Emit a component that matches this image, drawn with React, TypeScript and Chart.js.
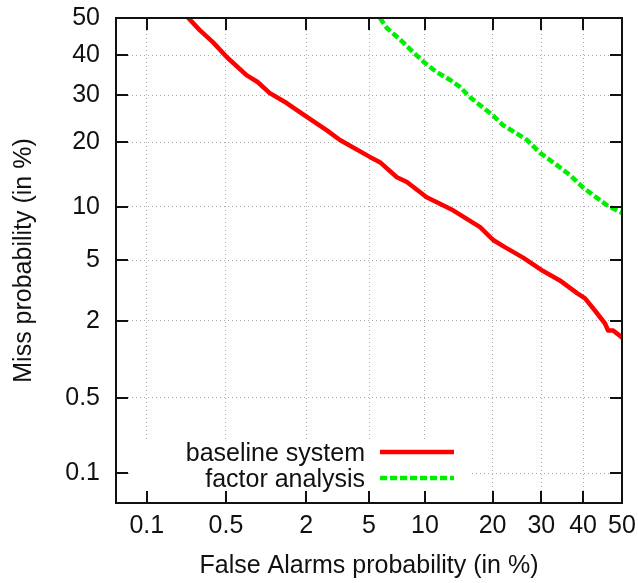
import React, { useEffect, useRef } from 'react';
import { Chart, registerables } from 'chart.js';

Chart.register(...registerables);

// ---- data (percent values) ----
const X_TICKS = [0.1, 0.5, 2, 5, 10, 20, 30, 40, 50];
const X_TICK_LABELS = ['0.1', '0.5', '2', '5', '10', '20', '30', '40', '50'];
const Y_TICKS = [0.1, 0.5, 2, 5, 10, 20, 30, 40, 50];
const Y_TICK_LABELS = ['0.1', '0.5', '2', '5', '10', '20', '30', '40', '50'];
const AXIS_MIN_PCT = 0.05;
const AXIS_MAX_PCT = 50;

const SERIES_LABELS = ['baseline system', 'factor analysis'];

const BASELINE_FA = [0.24, 0.30, 0.39, 0.51, 0.73, 0.89, 1.10, 1.46, 2.02, 2.75, 3.33, 5.05, 5.77, 7.16, 8.09, 10.2, 13.6, 17.8, 20.1, 22.3, 26.0, 30.4, 34.3, 38.5, 40.5, 43.0, 45.6, 46.4, 47.7, 50];
const BASELINE_MISS = [50, 46.8, 43.5, 39.5, 34.9, 33.2, 30.5, 28.2, 25.1, 22.3, 20.4, 17.3, 16.4, 14.0, 13.3, 11.2, 9.6, 7.8, 6.6, 6.0, 5.2, 4.3, 3.75, 3.1, 2.86, 2.36, 1.91, 1.70, 1.70, 1.51];

const FACTOR_FA = [5.77, 6.31, 6.98, 7.71, 8.69, 10.0, 11.4, 13.2, 14.6, 16.1, 17.8, 20.2, 21.9, 25.3, 26.8, 29.7, 33.6, 36.8, 40.0, 42.5, 46.1, 50];
const FACTOR_MISS = [50, 47.3, 45.4, 43.5, 40.9, 38.0, 35.7, 33.7, 32.0, 29.6, 27.7, 25.3, 23.4, 21.3, 20.4, 18.0, 15.9, 14.3, 12.5, 11.5, 10.2, 9.3];

const FONT_FAMILY = "'Liberation Sans', Arial, Helvetica, sans-serif";
const TEXT_COLOR = '#111111';

// inverse normal CDF (normal-deviate scale of a DET plot)
function probit(p: number): number {
  const a = [-3.969683028665376e1, 2.209460984245205e2, -2.759285104469687e2, 1.38357751867269e2, -3.066479806614716e1, 2.506628277459239];
  const b = [-5.447609879822406e1, 1.615858368580409e2, -1.556989798598866e2, 6.680131188771972e1, -1.328068155288572e1];
  const c = [-7.784894002430293e-3, -3.223964580411365e-1, -2.400758277161838, -2.549671010229528, 4.374664141464968, 2.938163982698783];
  const d = [7.784695709041462e-3, 3.224671290700398e-1, 2.445134137142996, 3.754408661907416];
  const pl = 0.02425;
  if (p === 0.5) return 0;
  if (p < pl) {
    const q = Math.sqrt(-2 * Math.log(p));
    return (((((c[0] * q + c[1]) * q + c[2]) * q + c[3]) * q + c[4]) * q + c[5]) / ((((d[0] * q + d[1]) * q + d[2]) * q + d[3]) * q + 1);
  }
  if (p <= 1 - pl) {
    const q = p - 0.5;
    const r = q * q;
    return ((((((a[0] * r + a[1]) * r + a[2]) * r + a[3]) * r + a[4]) * r + a[5]) * q) / (((((b[0] * r + b[1]) * r + b[2]) * r + b[3]) * r + b[4]) * r + 1);
  }
  const q = Math.sqrt(-2 * Math.log(1 - p));
  return -(((((c[0] * q + c[1]) * q + c[2]) * q + c[3]) * q + c[4]) * q + c[5]) / ((((d[0] * q + d[1]) * q + d[2]) * q + d[3]) * q + 1);
}

const toPoints = (fa: number[], miss: number[]) =>
  fa.map((v, i) => ({ x: probit(v / 100), y: probit(miss[i] / 100) }));

const zeroScalePadding = (s: any) => {
  s.paddingTop = 0;
  s.paddingBottom = 0;
  s.paddingLeft = 0;
  s.paddingRight = 0;
};

const detFramePlugin = {
  id: 'detFrame',
  beforeDatasetsDraw(chart: any) {
    const { ctx, chartArea: ca } = chart;
    // opaque legend box (hides the grid behind the key)
    ctx.save();
    ctx.fillStyle = '#ffffff';
    ctx.fillRect(ca.left + 14, ca.bottom - 63, 340, 63);
    ctx.restore();
  },
  afterDatasetsDraw(chart: any) {
    const { ctx, chartArea: ca } = chart;
    const xs = chart.scales.x;
    const ys = chart.scales.y;
    const tickLen = 12;
    ctx.save();
    ctx.strokeStyle = '#111111';
    ctx.lineWidth = 2;
    ctx.beginPath();
    xs.ticks.forEach((t: any) => {
      const px = Math.round(xs.getPixelForValue(t.value));
      ctx.moveTo(px, ca.bottom);
      ctx.lineTo(px, ca.bottom - tickLen);
      ctx.moveTo(px, ca.top);
      ctx.lineTo(px, ca.top + tickLen);
    });
    ys.ticks.forEach((t: any) => {
      const py = Math.round(ys.getPixelForValue(t.value));
      ctx.moveTo(ca.left, py);
      ctx.lineTo(ca.left + tickLen, py);
      ctx.moveTo(ca.right, py);
      ctx.lineTo(ca.right - tickLen, py);
    });
    ctx.stroke();
    ctx.strokeRect(ca.left, ca.top, ca.right - ca.left, ca.bottom - ca.top);

    // key
    const ds = chart.data.datasets;
    const textRight = ca.left + 249;
    const sampleL = ca.left + 264;
    const sampleR = ca.left + 338;
    const rows = [ca.bottom - 42, ca.bottom - 16];
    ctx.font = `25px ${FONT_FAMILY}`;
    ctx.textAlign = 'right';
    ctx.textBaseline = 'alphabetic';
    ctx.fillStyle = TEXT_COLOR;
    ds.forEach((d: any, i: number) => {
      ctx.fillText(d.label, textRight, rows[i]);
      ctx.beginPath();
      ctx.strokeStyle = d.borderColor;
      ctx.lineWidth = 4.5;
      ctx.setLineDash(d.borderDash || []);
      ctx.moveTo(sampleL, rows[i] - 9);
      ctx.lineTo(sampleR, rows[i] - 9);
      ctx.stroke();
    });
    ctx.restore();
  },
};

export default function App() {
  const canvasRef = useRef<HTMLCanvasElement | null>(null);

  useEffect(() => {
    document.body.style.margin = '0';
    const canvas = canvasRef.current;
    if (!canvas) return;
    const axisMin = probit(AXIS_MIN_PCT / 100);
    const axisMax = probit(AXIS_MAX_PCT / 100);
    const tickFont = { family: FONT_FAMILY, size: 25 };

    const chart = new Chart(canvas, {
      type: 'line',
      data: {
        datasets: [
          {
            label: SERIES_LABELS[0],
            data: toPoints(BASELINE_FA, BASELINE_MISS),
            borderColor: '#ff0000',
            borderWidth: 4.5,
            pointRadius: 0,
            tension: 0,
            fill: false,
            borderJoinStyle: 'round',
            borderCapStyle: 'round',
          },
          {
            label: SERIES_LABELS[1],
            data: toPoints(FACTOR_FA, FACTOR_MISS),
            borderColor: '#00ee00',
            borderWidth: 4.5,
            borderDash: [7, 3],
            pointRadius: 0,
            tension: 0,
            fill: false,
            borderJoinStyle: 'round',
          },
        ],
      },
      options: {
        animation: false,
        responsive: false,
        devicePixelRatio: 1,
        parsing: false,
        layout: { padding: { left: 0, right: 16, top: 18, bottom: 0 } },
        plugins: { legend: { display: false }, tooltip: { enabled: false } },
        scales: {
          x: {
            type: 'linear',
            min: axisMin,
            max: axisMax,
            afterBuildTicks: (s: any) => {
              s.ticks = X_TICKS.map((v) => ({ value: probit(v / 100) }));
            },
            afterFit: (s: any) => {
              s.height = 80;
              zeroScalePadding(s);
            },
            ticks: {
              autoSkip: false,
              maxRotation: 0,
              minRotation: 0,
              padding: 8,
              color: TEXT_COLOR,
              font: tickFont,
              callback: (_v: any, i: number) => X_TICK_LABELS[i],
            },
            grid: { color: '#a8a8a8', lineWidth: 1, drawTicks: false },
            border: { display: false, dash: [1, 3] },
            title: {
              display: true,
              text: 'False Alarms probability (in %)',
              color: TEXT_COLOR,
              font: { family: FONT_FAMILY, size: 25 },
              padding: { top: 0, bottom: 1.5 },
            },
          },
          y: {
            type: 'linear',
            min: axisMin,
            max: axisMax,
            afterBuildTicks: (s: any) => {
              s.ticks = Y_TICKS.map((v) => ({ value: probit(v / 100) }));
            },
            afterFit: (s: any) => {
              s.width = 116;
              zeroScalePadding(s);
            },
            ticks: {
              autoSkip: false,
              padding: 16,
              color: TEXT_COLOR,
              font: tickFont,
              callback: (_v: any, i: number) => Y_TICK_LABELS[i],
            },
            grid: { color: '#a8a8a8', lineWidth: 1, drawTicks: false },
            border: { display: false, dash: [1, 3] },
            title: {
              display: true,
              text: 'Miss probability (in %)',
              color: TEXT_COLOR,
              font: { family: FONT_FAMILY, size: 25 },
              padding: { top: 9, bottom: 0 },
            },
          },
        },
      },
      plugins: [detFramePlugin],
    } as any);

    return () => chart.destroy();
  }, []);

  return (
    <div style={{ position: 'absolute', left: 0, top: 0, width: 638, height: 583 }}>
      <canvas ref={canvasRef} width={638} height={583} style={{ display: 'block' }} />
    </div>
  );
}
